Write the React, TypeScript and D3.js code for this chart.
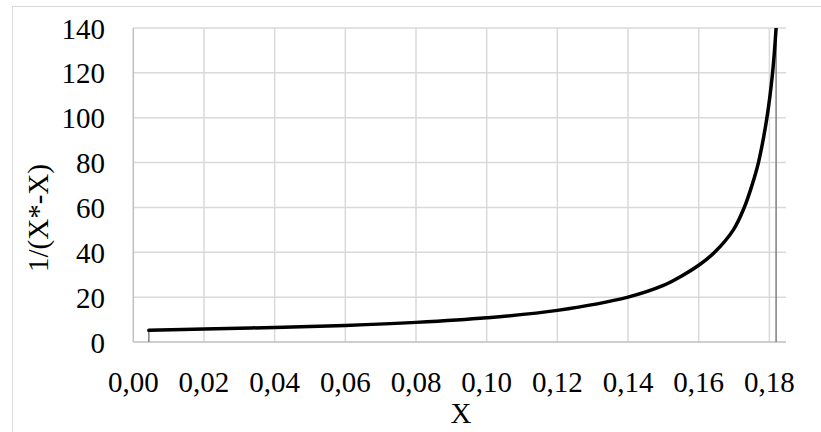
import * as d3 from 'd3'

// values
const xValues = [
  0.0044, 0.02, 0.04, 0.06, 0.08, 0.1, 0.12, 0.14, 0.15, 0.1547, 0.16, 0.1645, 0.1698,
  0.1729, 0.1751, 0.1769, 0.1793, 0.1809, 0.1819,
]
const yValues = [
  5.2, 5.8, 6.5, 7.4, 8.75, 10.8, 14.1, 20.0, 25.2, 29.0, 34.2, 40, 50, 60, 70, 80, 100,
  120, 140,
]
const xTicks = [0, 0.02, 0.04, 0.06, 0.08, 0.1, 0.12, 0.14, 0.16, 0.18]
const yTicks = [0, 20, 40, 60, 80, 100, 120, 140]
const xTitle = 'X'
const yTitle = '1/(X*-X)'

const W = 821
const H = 432
const plot = { left: 133.3, right: 786, top: 28, bottom: 342 }
const font = 'Liberation Serif, Times New Roman, serif'

const xScale = d3.scaleLinear().domain([0, 0.1847]).range([plot.left, plot.right])
const yScale = d3.scaleLinear().domain([0, 140]).range([plot.bottom, plot.top])

const points: [number, number][] = xValues.map((x, i) => [x, yValues[i]])

const line = d3
  .line<[number, number]>()
  .x(d => xScale(d[0]))
  .y(d => yScale(d[1]))
  .curve(d3.curveCatmullRom.alpha(0.5))

const fmt = (v: number) => d3.format('.2f')(v).replace('.', ',')

export default function App() {
  const first = points[0]
  const last = points[points.length - 1]
  return (
    <svg
      width={W}
      height={H}
      style={{ position: 'absolute', left: 0, top: 0, background: '#fff' }}
    >
      <rect x={12.5} y={6.5} width={820} height={430} fill="#fff" stroke="#d9d9d9" />
      <defs>
        <clipPath id="plot-clip">
          <rect
            x={plot.left}
            y={plot.top}
            width={plot.right - plot.left}
            height={plot.bottom - plot.top}
          />
        </clipPath>
      </defs>

      {/* grid */}
      <g stroke="#d9d9d9" strokeWidth={1.5}>
        {yTicks.slice(1).map(t => (
          <line
            key={'h' + t}
            x1={plot.left}
            x2={plot.right}
            y1={yScale(t)}
            y2={yScale(t)}
          />
        ))}
        {xTicks.slice(1).map(t => (
          <line
            key={'v' + t}
            x1={xScale(t)}
            x2={xScale(t)}
            y1={plot.top}
            y2={plot.bottom}
          />
        ))}
      </g>
      {/* axes */}
      <g stroke="#bfbfbf" strokeWidth={1.5}>
        <line x1={plot.left} x2={plot.left} y1={plot.top} y2={plot.bottom} />
        <line x1={plot.left} x2={plot.right} y1={plot.bottom} y2={plot.bottom} />
      </g>

      {/* drop lines at first and last points */}
      <g stroke="#7f7f7f" strokeWidth={1.5} clipPath="url(#plot-clip)">
        <line
          x1={xScale(first[0])}
          x2={xScale(first[0])}
          y1={yScale(0)}
          y2={yScale(first[1])}
        />
        <line
          x1={xScale(last[0])}
          x2={xScale(last[0])}
          y1={yScale(0)}
          y2={yScale(last[1])}
        />
      </g>

      <path
        d={line(points) ?? ''}
        fill="none"
        stroke="#000"
        strokeWidth={3.5}
        strokeLinecap="round"
        clipPath="url(#plot-clip)"
      />

      {/* tick labels */}
      <g fontFamily={font} fontSize={29} fill="#000">
        {yTicks.map(t => (
          <text key={'yl' + t} x={105} y={yScale(t) + 10.5} textAnchor="end">
            {t}
          </text>
        ))}
        {xTicks.map(t => (
          <text key={'xl' + t} x={xScale(t)} y={392} textAnchor="middle">
            {fmt(t)}
          </text>
        ))}
        <text x={461} y={423} textAnchor="middle">
          {xTitle}
        </text>
        <text transform="translate(47.5,218) rotate(-90)" textAnchor="middle">
          {yTitle}
        </text>
      </g>
    </svg>
  )
}
